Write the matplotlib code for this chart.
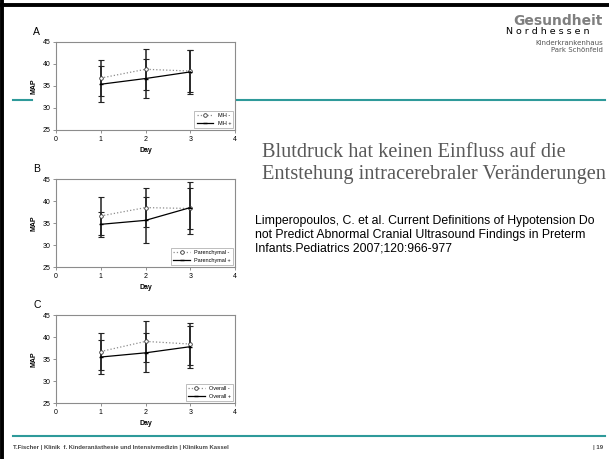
import matplotlib.pyplot as plt
from matplotlib.lines import Line2D

W, H = 609, 459

# Daten
days = [1, 2, 3]
mh_neg = [36.8, 38.8, 38.4]
mh_neg_err = [4.0, 4.6, 4.85]
mh_pos = [35.4, 36.7, 38.2]
mh_pos_err = [4.1, 4.5, 5.0]

par_neg = [36.6, 38.5, 38.3]
par_neg_err = [4.35, 4.5, 4.6]
par_pos = [34.7, 35.6, 38.5]
par_pos_err = [2.9, 5.2, 5.9]

ov_neg = [36.7, 39.0, 38.4]
ov_neg_err = [4.15, 4.65, 4.85]
ov_pos = [35.45, 36.4, 37.8]
ov_pos_err = [3.95, 4.4, 4.8]

x_ticks = [0, 1, 2, 3, 4]
y_ticks = [25, 30, 35, 40, 45]

title_lines = ["Blutdruck hat keinen Einfluss auf die",
               "Entstehung intracerebraler Veränderungen"]
quelle_lines = ["Limperopoulos, C. et al. Current Definitions of Hypotension Do",
                "not Predict Abnormal Cranial Ultrasound Findings in Preterm",
                "Infants.Pediatrics 2007;120:966-977"]

teal = "#2e9a9a"
plt.rcParams["font.family"] = ["Liberation Sans", "DejaVu Sans"]


def fx(x):
    return x / W


def fy(y):
    return 1 - y / H


fig = plt.figure(figsize=(W / 100, H / 100), dpi=100)

# Rahmen der Folie
fig.add_artist(Line2D([fx(0), fx(W)], [fy(4.5), fy(4.5)], color="black", lw=2.8))
fig.add_artist(Line2D([fx(2), fx(2)], [fy(0), fy(H)], color="black", lw=2.8))

# Linien
fig.add_artist(Line2D([fx(13), fx(32)], [fy(100), fy(100)], color=teal, lw=1.5))
fig.add_artist(Line2D([fx(237), fx(605)], [fy(100), fy(100)], color=teal, lw=1.5))
fig.add_artist(Line2D([fx(13), fx(605)], [fy(436), fy(436)], color=teal, lw=1.5))

# Kopfzeile
fig.text(fx(603), fy(21), "Gesundheit", ha="right", va="center", fontsize=10,
         fontweight="bold", color="#7f7f7f", family="DejaVu Sans")
fig.text(fx(590), fy(32), "N o r d h e s s e n", ha="right", va="center", fontsize=6.8,
         color="black", family="DejaVu Sans")
fig.text(fx(603), fy(43), "Kinderkrankenhaus", ha="right", va="center", fontsize=5,
         color="#555555", family="DejaVu Sans")
fig.text(fx(603), fy(50), "Park Schönfeld", ha="right", va="center", fontsize=5,
         color="#555555", family="DejaVu Sans")

# Titel und Quelle
for i, line in enumerate(title_lines):
    fig.text(fx(262), fy(157 + 22 * i), line, ha="left", va="baseline", fontsize=14.7,
             color="#595959", family="Liberation Serif")
for i, line in enumerate(quelle_lines):
    fig.text(fx(255), fy(221 + 13.5 * i), line, ha="left", va="center", fontsize=8.8,
             color="black")

# Fusszeile
fig.text(fx(13), fy(447), "T.Fischer | Klinik  f. Kinderanästhesie und Intensivmedizin | Klinikum Kassel",
         ha="left", va="center", fontsize=4.3, color="#444444", fontweight="bold")
fig.text(fx(603), fy(447), "| 19", ha="right", va="center", fontsize=4.3, color="#444444",
         fontweight="bold")

panels = [
    ("A", 130, mh_neg, mh_neg_err, mh_pos, mh_pos_err, "MH -", "MH +"),
    ("B", 267, par_neg, par_neg_err, par_pos, par_pos_err, "Parenchymal -", "Parenchymal +"),
    ("C", 403, ov_neg, ov_neg_err, ov_pos, ov_pos_err, "Overall -", "Overall +"),
]

for letter, bottom, neg, neg_err, pos, pos_err, lab_neg, lab_pos in panels:
    ax = fig.add_axes([fx(56), fy(bottom), fx(235) - fx(56), 88 / H])
    ax.errorbar(days, pos, yerr=pos_err, fmt="none", ecolor="#222222", elinewidth=1.1,
                capsize=2.3, capthick=0.8, zorder=2)
    ax.errorbar(days, neg, yerr=neg_err, fmt="none", ecolor="#222222", elinewidth=1.1,
                capsize=2.3, capthick=0.8, zorder=2)
    ax.plot(days, neg, color="#8c8c8c", lw=0.9, ls=":", marker="o", ms=2.6,
            mfc="white", mec="#333333", mew=0.6, label=lab_neg, zorder=3)
    ax.plot(days, pos, color="black", lw=0.9, marker="_", ms=3, label=lab_pos, zorder=3)
    ax.set_xlim(0, 4)
    ax.set_ylim(25, 45)
    ax.set_xticks(x_ticks)
    ax.set_yticks(y_ticks)
    ax.tick_params(labelsize=5, length=2, width=0.6, color="#808080", pad=2)
    for s in ax.spines.values():
        s.set_color("#8c8c8c")
        s.set_linewidth(0.8)
    ax.set_xlabel("Day", fontsize=5, fontweight="bold", labelpad=3)
    ax.set_ylabel("MAP", fontsize=5, fontweight="bold", labelpad=4)
    leg = ax.legend(loc="lower right", fontsize=4, frameon=True, fancybox=False,
                    edgecolor="#8c8c8c", borderaxespad=0.3, handlelength=3,
                    borderpad=0.4, labelspacing=0.5)
    leg.get_frame().set_linewidth(0.5)
    fig.text(fx(33), fy(bottom - 98), letter, ha="left", va="center", fontsize=7.5)

fig.savefig("out.png", dpi=100)
